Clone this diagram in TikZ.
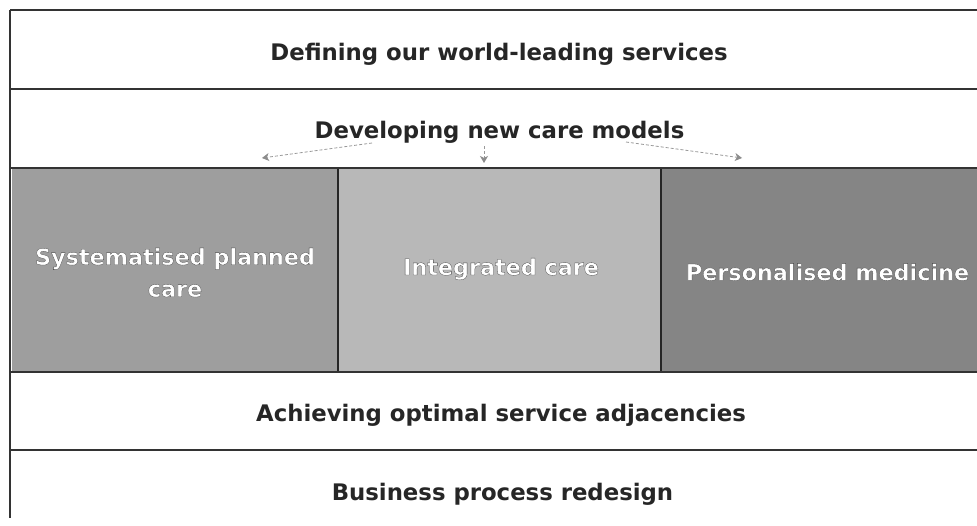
\documentclass[tikz,border=0pt]{standalone}
\usepackage{fontspec}
\setmainfont{DejaVu Sans}
\usetikzlibrary{arrows.meta}
\definecolor{tileA}{gray}{0.62}
\definecolor{tileB}{gray}{0.72}
\definecolor{tileC}{gray}{0.52}
\definecolor{ink}{gray}{0.15}
% white lettering with a thin dark outline (fill, then stroke)
\newcommand{\outlined}[1]{\special{pdf:literal direct 2 Tr 0.3 w 0.3 G}#1\special{pdf:literal direct 0 Tr}}
\begin{document}
\begin{tikzpicture}[x=1pt,y=-1pt,
  rule/.style={draw=black!80, line width=1.6pt},
  band/.style={font=\bfseries\fontsize{22.8}{27}\selectfont, text=ink, inner sep=0pt, anchor=base},
  tile/.style={draw=black!85, line width=1.2pt},
  tiletext/.style={font=\bfseries\fontsize{22.3}{32}\selectfont, text=white, align=center, inner sep=0pt},
  flow/.style={draw=black!40, dashed, dash pattern=on 3pt off 2pt, line width=0.8pt,
    -{Stealth[length=7pt,width=8pt,inset=2pt,color=black!45,fill=black!45]}}
]
\useasboundingbox (0,0) rectangle (977,525);
\fill[white] (0,0) rectangle (977,525);

% coloured tiles
\fill[tileA] (12,169) rectangle (338,371);
\fill[tileB] (338,169) rectangle (661,371);
\fill[tileC] (661,169) rectangle (977,371);
\draw[tile] (338,169) -- (338,371);
\draw[tile] (661,169) -- (661,371);

% frame and band rules
\draw[rule] (10,10) -- (977,10);
\draw[rule] (10,89) -- (977,89);
\draw[rule] (10,168) -- (977,168);
\draw[rule] (10,372) -- (977,372);
\draw[rule] (10,450) -- (977,450);
\draw[rule, line width=1.2pt] (10,10) -- (10,518);

% band labels
\node[band] (define) at (499,60) {Defining our world-leading services};
\node[band] (develop) at (499.5,138) {Developing new care models};
\node[band] (adjacent) at (501,421) {Achieving optimal service adjacencies};
\node[band] (process) at (502.5,500) {Business process redesign};

% tile labels
\node[tiletext] (planned) at (175,272.5) {\outlined{Systematised planned}\\\outlined{care}};
\node[tiletext] (integrated) at (501,269) {\outlined{Integrated care}};
\node[tiletext] (personal) at (827.5,272) {\outlined{Personalised medicine}};

% arrows fanning out from the care-models band
\coordinate (fromL) at (372,143);
\coordinate (toL) at (262,158);
\coordinate (fromM) at (484,146);
\coordinate (toM) at (484,163);
\coordinate (fromR) at (626,142);
\coordinate (toR) at (742,158);
\draw[flow] (fromL) -- (toL);
\draw[flow] (fromM) -- (toM);
\draw[flow] (fromR) -- (toR);
\end{tikzpicture}
\end{document}
